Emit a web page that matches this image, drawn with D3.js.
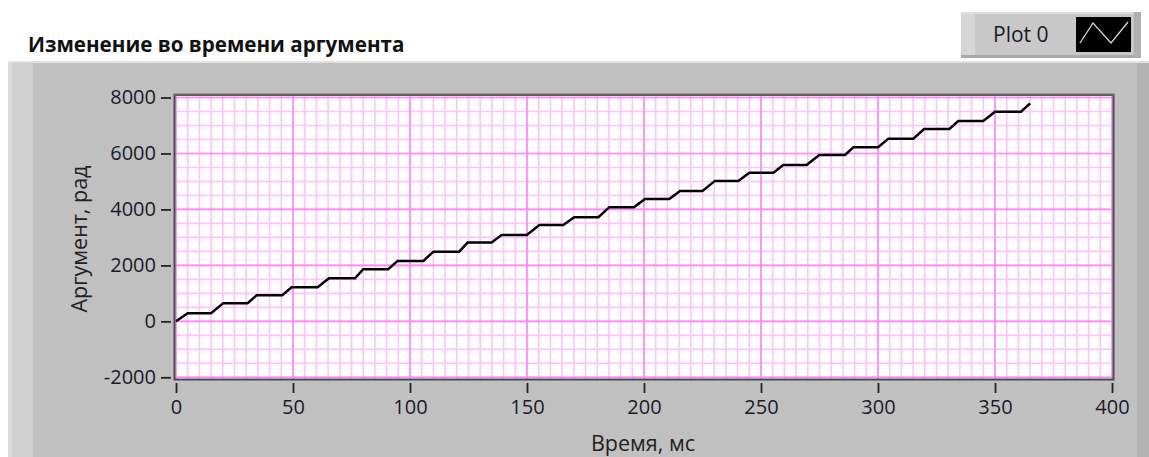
<!DOCTYPE html>
<html lang="ru">
<head>
<meta charset="UTF-8">
<title>Изменение во времени аргумента</title>
<script src="https://d3js.org/d3.v7.min.js"></script>
<style>
    body { margin: 0; background: #fff; }
    text { font-family: "Open Sans", "DejaVu Sans", sans-serif; }
</style>
</head>
<body>
<div id="chart"></div>
<script>
    // data: corner points of the staircase
    const timeMs = [0, 5, 15, 20.2, 30.6, 34.5, 45.4, 49.4, 60.5, 65.4, 76.5, 80, 90.7, 94.7,
        105.7, 110, 121, 124.6, 134.9, 139.2, 149.9, 155.3, 165.5, 170.2, 180.5, 185.2,
        195.7, 200.4, 210.8, 215.4, 225, 230.3, 240.3, 245, 255.3, 259.5, 269.5, 274.9,
        285.9, 289.5, 300.1, 304.4, 315.1, 319.7, 330.5, 334.3, 345, 350, 361.1, 365];
    const argRad = [0, 290, 290, 650, 650, 935, 935, 1220, 1220, 1540, 1540, 1865, 1865, 2160,
        2160, 2490, 2490, 2815, 2815, 3090, 3090, 3445, 3445, 3720, 3720, 4080,
        4080, 4375, 4375, 4660, 4660, 5020, 5020, 5315, 5315, 5590, 5590, 5945,
        5945, 6220, 6220, 6530, 6530, 6875, 6875, 7160, 7160, 7490, 7490, 7790];
    const xTicks = [0, 50, 100, 150, 200, 250, 300, 350, 400];
    const yTicks = [-2000, 0, 2000, 4000, 6000, 8000];

    const W = 1149, H = 457;
    const svg = d3.select("#chart").append("svg")
        .attr("width", W).attr("height", H);

    // outer panel
    const panel = svg.append("g");
    panel.append("rect").attr("x", 8).attr("y", 61).attr("width", W - 8).attr("height", H - 61)
        .attr("fill", "#c0c0c0");
    panel.append("rect").attr("x", 8).attr("y", 61).attr("width", 25).attr("height", H - 61)
        .attr("fill", "#d0d0d0");
    panel.append("rect").attr("x", 8).attr("y", 61).attr("width", 4).attr("height", H - 61)
        .attr("fill", "#dcdcdc");
    panel.append("rect").attr("x", 8).attr("y", 61).attr("width", W - 8).attr("height", 2)
        .attr("fill", "#e2e2e2");
    panel.append("rect").attr("x", 1137).attr("y", 63).attr("width", 12).attr("height", H - 63)
        .attr("fill", "#b3b3b3");

    // title
    svg.append("text")
        .attr("x", 28).attr("y", 52)
        .attr("font-size", "20.6px").attr("font-weight", "700")
        .attr("fill", "#111")
        .text("Изменение во времени аргумента");

    // legend
    const leg = svg.append("g");
    leg.append("rect").attr("x", 961).attr("y", 12).attr("width", 180).attr("height", 46)
        .attr("fill", "#c8c8c8");
    leg.append("rect").attr("x", 961).attr("y", 12).attr("width", 14).attr("height", 46)
        .attr("fill", "#d6d6d6");
    leg.append("rect").attr("x", 961).attr("y", 12).attr("width", 180).attr("height", 2)
        .attr("fill", "#dedede");
    leg.append("rect").attr("x", 961).attr("y", 55).attr("width", 180).attr("height", 3)
        .attr("fill", "#a9a9a9");
    leg.append("rect").attr("x", 1134).attr("y", 12).attr("width", 7).attr("height", 46)
        .attr("fill", "#b0b0b0");
    leg.append("text").attr("x", 993).attr("y", 42)
        .attr("font-size", "21px").attr("fill", "#1a1a2a").text("Plot 0");
    leg.append("rect").attr("x", 1076).attr("y", 17).attr("width", 55).attr("height", 35)
        .attr("fill", "#000");
    leg.append("polyline")
        .attr("points", "1080,43 1093,23 1111,43 1128,22")
        .attr("fill", "none").attr("stroke", "#d8d8d8").attr("stroke-width", 1.3);

    // plot area
    const plotL = 176, plotR = 1112, plotT = 97.5, plotB = 377.3;
    const x = d3.scaleLinear().domain([0, 400]).range([plotL, plotR]);
    const y = d3.scaleLinear().domain([-2000, 8000]).range([plotB, plotT]);

    svg.append("rect").attr("x", 175).attr("y", 95).attr("width", 938).attr("height", 284)
        .attr("fill", "#fff");

    const grid = svg.append("g");
    grid.selectAll(".vmin").data(x.ticks(80)).enter().append("line")
        .attr("x1", d => x(d)).attr("x2", d => x(d)).attr("y1", 95).attr("y2", 379)
        .attr("stroke", "#ffc4ff").attr("stroke-width", 1.6);
    grid.selectAll(".hmin").data(y.ticks(20)).enter().append("line")
        .attr("y1", d => y(d)).attr("y2", d => y(d)).attr("x1", 175).attr("x2", 1113)
        .attr("stroke", "#ffc4ff").attr("stroke-width", 1.6);
    grid.selectAll(".vmaj").data(xTicks).enter().append("line")
        .attr("x1", d => x(d)).attr("x2", d => x(d)).attr("y1", 95).attr("y2", 379)
        .attr("stroke", "#ff88ff").attr("stroke-width", 1.6);
    grid.selectAll(".hmaj").data(yTicks).enter().append("line")
        .attr("y1", d => y(d)).attr("y2", d => y(d)).attr("x1", 175).attr("x2", 1113)
        .attr("stroke", "#ff88ff").attr("stroke-width", 1.6);

    // the trace
    const pts = timeMs.map((t, i) => [t, argRad[i]]);
    svg.append("path")
        .datum(pts)
        .attr("fill", "none")
        .attr("stroke", "#000")
        .attr("stroke-width", 2.5)
        .attr("stroke-linejoin", "miter")
        .attr("d", d3.line().x(d => x(d[0])).y(d => y(d[1])));

    // frame
    svg.append("rect").attr("x", 174.5).attr("y", 95).attr("width", 939).attr("height", 284.5)
        .attr("fill", "none").attr("stroke", "#4a4a4a").attr("stroke-width", 2);
    svg.append("line").attr("x1", 174).attr("x2", 1114).attr("y1", 94.5).attr("y2", 94.5)
        .attr("stroke", "#6a6a6a").attr("stroke-width", 2);

    // axes
    const fmt = d => String(d);
    const yAxis = svg.append("g")
        .attr("transform", "translate(171,0)")
        .call(d3.axisLeft(y).tickValues(yTicks).tickFormat(fmt)
            .tickSizeInner(10).tickSizeOuter(0).tickPadding(5));
    const xAxis = svg.append("g")
        .attr("transform", "translate(0,383)")
        .call(d3.axisBottom(x).tickValues(xTicks).tickFormat(fmt)
            .tickSizeInner(10).tickSizeOuter(0).tickPadding(7));
    [yAxis, xAxis].forEach(a => {
        a.select(".domain").remove();
        a.selectAll(".tick line").attr("stroke", "#222").attr("stroke-width", 1.8);
        a.selectAll(".tick text").attr("font-size", "20px").attr("fill", "#1a1a2a")
            .attr("font-family", "'Open Sans', sans-serif");
    });

    // axis titles
    svg.append("text")
        .attr("transform", "translate(87,239) rotate(-90)")
        .attr("text-anchor", "middle")
        .attr("font-size", "21.5px").attr("fill", "#222")
        .text("Аргумент, рад");
    svg.append("text")
        .attr("x", 643).attr("y", 451)
        .attr("text-anchor", "middle")
        .attr("font-size", "21.5px").attr("fill", "#222")
        .text("Время, мс");
</script>
</body>
</html>
